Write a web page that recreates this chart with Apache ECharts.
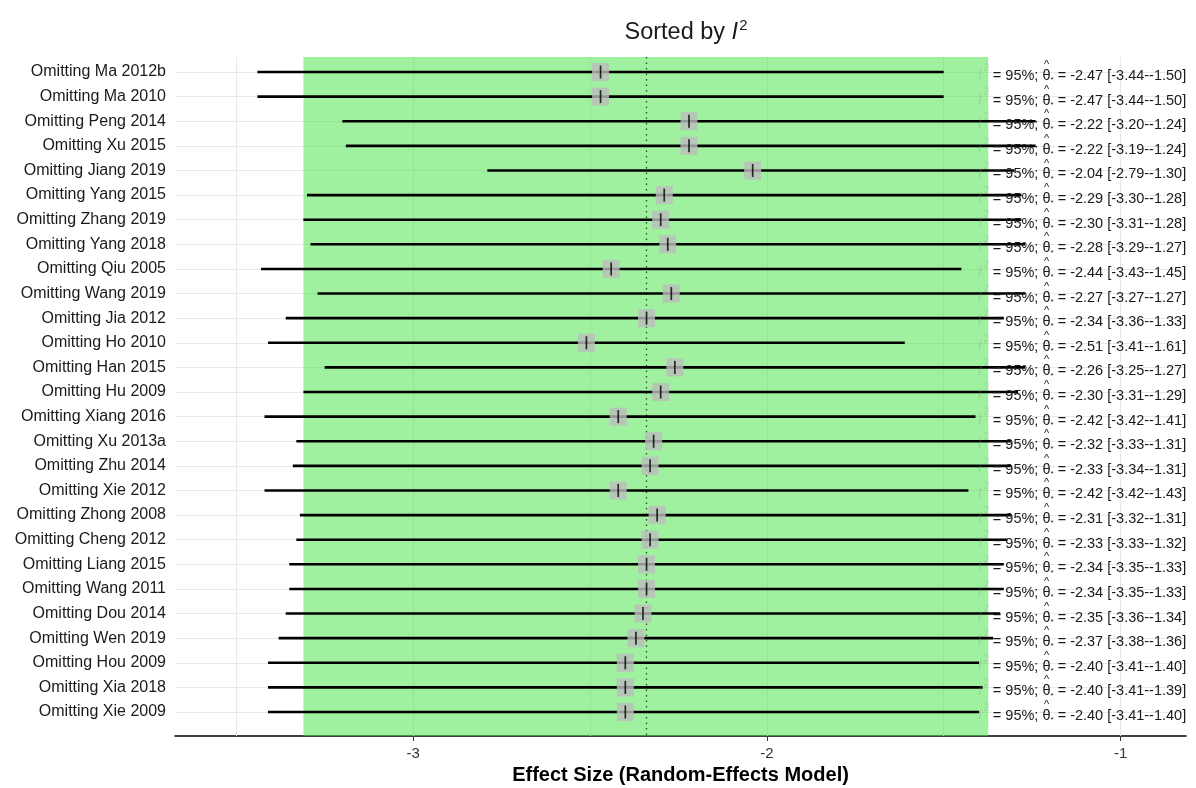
<!DOCTYPE html>
<html>
<head>
<meta charset="utf-8">
<script src="https://cdn.jsdelivr.net/npm/echarts@6/dist/echarts.min.js"></script>
<style>
html,body{margin:0;padding:0;background:#fff;}
#chart{width:1196px;height:788px;}
</style>
</head>
<body>
<div id="chart"></div>
<script>
const studies = ['Ma 2012b','Ma 2010','Peng 2014','Xu 2015','Jiang 2019','Yang 2015','Zhang 2019','Yang 2018','Qiu 2005','Wang 2019','Jia 2012','Ho 2010','Han 2015','Hu 2009','Xiang 2016','Xu 2013a','Zhu 2014','Xie 2012','Zhong 2008','Cheng 2012','Liang 2015','Wang 2011','Dou 2014','Wen 2019','Hou 2009','Xia 2018','Xie 2009'];
const estimates = [-2.47,-2.47,-2.22,-2.22,-2.04,-2.29,-2.30,-2.28,-2.44,-2.27,-2.34,-2.51,-2.26,-2.30,-2.42,-2.32,-2.33,-2.42,-2.31,-2.33,-2.34,-2.34,-2.35,-2.37,-2.40,-2.40,-2.40];
const lower = [-3.44,-3.44,-3.20,-3.19,-2.79,-3.30,-3.31,-3.29,-3.43,-3.27,-3.36,-3.41,-3.25,-3.31,-3.42,-3.33,-3.34,-3.42,-3.32,-3.33,-3.35,-3.35,-3.36,-3.38,-3.41,-3.41,-3.41];
const upper = [-1.50,-1.50,-1.24,-1.24,-1.30,-1.28,-1.28,-1.27,-1.45,-1.27,-1.33,-1.61,-1.27,-1.29,-1.41,-1.31,-1.31,-1.43,-1.31,-1.32,-1.33,-1.33,-1.34,-1.36,-1.40,-1.39,-1.40];
const i2 = [95,95,95,95,95,95,95,95,95,95,95,95,95,95,95,95,95,95,95,95,95,95,95,95,95,95,95];
const xTickLabels = [-3,-2,-1];
const xGridValues = [-3.5,-3,-2.5,-2,-1.5,-1];
const overallEstimate = -2.336;
const predInterval = [-3.31,-1.374];

const FONT = "'Liberation Sans', Arial, sans-serif";
const LABEL_FS = 14.5;
const LABEL_X = -1.361;
const rows = studies.map((s,i)=>i);
const fmt = v => v.toFixed(2);

const mctx = document.createElement('canvas').getContext('2d');
function tw(str, size, style) {
  mctx.font = (style ? style + ' ' : '') + size + 'px "Liberation Sans"';
  return mctx.measureText(str).width;
}

const gridLines = [];
xGridValues.forEach(v => gridLines.push({xAxis: v}));
rows.forEach(i => gridLines.push({yAxis: i}));

const FAINT = 'rgba(150,150,150,0.3)';
const TXT = '#1a1a1a';

const chart = echarts.init(document.getElementById('chart'));
chart.setOption({
  animation: false,
  backgroundColor: '#ffffff',
  title: {
    text: 'Sorted by {i|I}{s|2}',
    left: 681,
    top: 13,
    textAlign: 'center',
    textStyle: {
      fontFamily: FONT, fontSize: 23.5, fontWeight: 'normal', color: TXT,
      rich: {
        i: {fontFamily: FONT, fontSize: 23.5, fontStyle: 'italic', color: TXT},
        s: {fontFamily: FONT, fontSize: 15, color: TXT, padding: [0,0,14,1]}
      }
    }
  },
  grid: {left: 175, right: 10, top: 57, bottom: 52, outerBoundsMode: 'none', containLabel: false},
  xAxis: {
    type: 'value',
    min: -3.673, max: -0.815,
    name: 'Effect Size (Random-Effects Model)',
    nameLocation: 'middle',
    nameGap: 27,
    nameTextStyle: {fontFamily: FONT, fontSize: 20, fontWeight: 'bold', color: '#000'},
    axisLine: {show: true, onZero: false, lineStyle: {color: '#000', width: 1.5}},
    axisTick: {show: true, customValues: xTickLabels, length: 5, lineStyle: {color: '#333', width: 1}},
    axisLabel: {customValues: xTickLabels, formatter: v => String(v), fontFamily: FONT, fontSize: 15, color: '#333', margin: 10},
    splitLine: {show: false}
  },
  yAxis: {
    type: 'value',
    inverse: true,
    min: -0.61, max: 26.975,
    axisLine: {show: false},
    axisTick: {show: false},
    splitLine: {show: false},
    axisLabel: {
      customValues: rows,
      formatter: v => 'Omitting ' + studies[Math.round(v)],
      fontFamily: FONT, fontSize: 16, color: TXT, margin: 9
    }
  },
  series: [
    {
      type: 'scatter', name: 'background', data: [], z: 1, silent: true,
      markLine: {
        silent: true, symbol: 'none', z: 1,
        label: {show: false},
        lineStyle: {color: '#e8e8e8', width: 1, type: 'solid'},
        data: gridLines
      },
      markArea: {
        silent: true, z: 2,
        itemStyle: {color: 'rgba(70,228,70,0.52)'},
        data: [[{xAxis: predInterval[0]}, {xAxis: predInterval[1]}]]
      }
    },
    {
      type: 'scatter', name: 'overall', data: [], z: 3, silent: true,
      markLine: {
        silent: true, symbol: 'none', z: 3,
        label: {show: false},
        lineStyle: {color: '#2a4a2a', width: 1.3, type: [1.5, 4]},
        data: [{xAxis: overallEstimate}]
      }
    },
    {
      type: 'custom', name: 'ci', z: 4, silent: true,
      data: rows.map(i => [lower[i], i, upper[i]]),
      encode: {x: [0, 2], y: 1},
      renderItem: function (params, api) {
        const a = api.coord([api.value(0), api.value(1)]);
        const b = api.coord([api.value(2), api.value(1)]);
        return {type: 'line', shape: {x1: a[0], y1: a[1], x2: b[0], y2: b[1]},
          style: {stroke: '#000', lineWidth: 2.6}};
      }
    },
    {
      type: 'scatter', name: 'box', z: 5, silent: true,
      symbol: 'rect', symbolSize: [17, 18],
      itemStyle: {color: '#bdbdbd'},
      data: rows.map(i => [estimates[i], i])
    },
    {
      type: 'scatter', name: 'tick', z: 6, silent: true,
      symbol: 'rect', symbolSize: [1.7, 13],
      itemStyle: {color: '#000'},
      data: rows.map(i => [estimates[i], i])
    },
    {
      type: 'custom', name: 'labels', z: 7, silent: true, clip: false,
      data: rows.map(i => [estimates[i], i]),
      encode: {x: 0, y: 1},
      renderItem: function (params, api) {
        const k = params.dataIndex;
        const p = api.coord([LABEL_X, api.value(1)]);
        const x0 = p[0], yc = p[1] + 4;
        const pre = '= ' + i2[k] + '%; ';
        const part1 = pre + 'θ';
        const rest = ' = ' + fmt(estimates[k]) + ' [' + fmt(lower[k]) + '-' + fmt(upper[k]) + ']';
        const w1 = tw(part1, LABEL_FS);
        const hatX = x0 + tw(pre, LABEL_FS) + tw('θ', LABEL_FS) / 2;
        const base = {fontFamily: FONT, fontSize: LABEL_FS, fill: TXT, align: 'left', verticalAlign: 'middle'};
        return {
          type: 'group',
          children: [
            {type: 'text', x: x0 - 15, y: yc - 1, style: Object.assign({}, base, {text: 'I', fontStyle: 'italic', fontSize: 15, fill: FAINT})},
            {type: 'text', x: x0 - 9, y: yc - 8, style: Object.assign({}, base, {text: '2', fontSize: 10, fill: FAINT})},
            {type: 'text', x: x0, y: yc, style: Object.assign({}, base, {text: part1})},
            {type: 'text', x: hatX, y: yc - 11, style: Object.assign({}, base, {text: '^', fontSize: 11, align: 'center'})},
            {type: 'text', x: x0 + w1, y: yc + 4, style: Object.assign({}, base, {text: '*', fontSize: 8})},
            {type: 'text', x: x0 + w1 + tw('*', 8), y: yc, style: Object.assign({}, base, {text: rest})}
          ]
        };
      }
    }
  ]
});
</script>
</body>
</html>
